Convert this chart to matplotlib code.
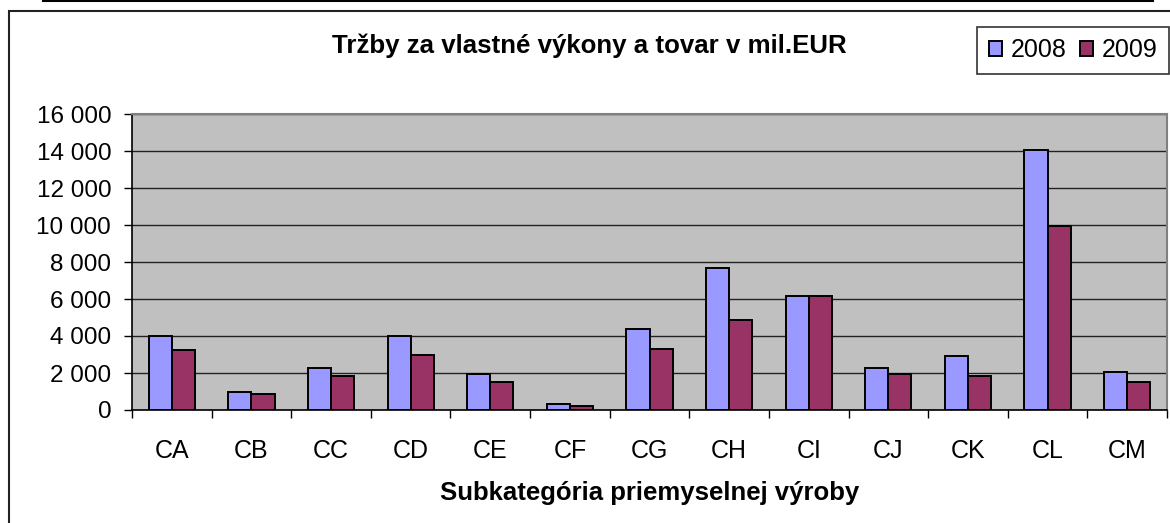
import matplotlib.pyplot as plt
import numpy as np
from matplotlib.lines import Line2D
from matplotlib.patches import Rectangle
from matplotlib.ticker import FuncFormatter, FixedLocator

# Tržby podľa subkategórie (mil. EUR), odčítané z grafu
categories = ["CA", "CB", "CC", "CD", "CE", "CF", "CG", "CH", "CI", "CJ", "CK", "CL", "CM"]
sales_2008 = [4000, 950, 2250, 4000, 1950, 300, 4400, 7650, 6150, 2250, 2900, 14050, 2050]
sales_2009 = [3250, 850, 1850, 3000, 1500, 200, 3300, 4850, 6150, 1950, 1850, 9950, 1500]
series_labels = ["2008", "2009"]

plt.rcParams['font.family'] = ['Liberation Sans', 'DejaVu Sans']

W, H = 1170, 523
fig = plt.figure(figsize=(W / 100, H / 100), dpi=100, facecolor='w')

# plot area in pixels: x 132..1167, y 114..410
ax = fig.add_axes([132 / W, 1 - 410 / H, (1167 - 132) / W, (410 - 114) / H])
ax.set_facecolor('#C0C0C0')

x = np.arange(len(categories))
w = 0.29
ax.bar(x - w / 2, sales_2008, w, color='#9999FF', edgecolor='black', linewidth=1.4,
       label=series_labels[0], zorder=3)
ax.bar(x + w / 2, sales_2009, w, color='#993366', edgecolor='black', linewidth=1.4,
       label=series_labels[1], zorder=3)

ax.set_xlim(-0.5, len(categories) - 0.5)
ax.set_ylim(0, 16000)
ax.set_yticks(np.arange(0, 16001, 2000))
ax.yaxis.set_major_formatter(FuncFormatter(lambda v, p: f"{int(v):,}".replace(",", " ")))
ax.grid(axis='y', color='#222222', linewidth=1.0, zorder=1)

# category labels at centres, tick marks at boundaries
ax.set_xticks(x)
ax.set_xticklabels(categories)
ax.xaxis.set_minor_locator(FixedLocator(np.arange(-0.5, len(categories), 1)))
ax.tick_params(axis='x', which='major', length=0, pad=21, labelsize=18)
ax.tick_params(axis='x', which='minor', length=6, width=1, direction='out', color='black')
ax.tick_params(axis='y', length=6, width=1, direction='out', pad=9, labelsize=17.5)

for s in ['top', 'right']:
    ax.spines[s].set_color('#808080')
    ax.spines[s].set_linewidth(1.5)
for s in ['left', 'bottom']:
    ax.spines[s].set_color('black')
    ax.spines[s].set_linewidth(1.2)

ax.set_xlabel("Subkategória priemyselnej výroby", fontsize=18.5, fontweight='bold', labelpad=13)

fig.text(589 / W, 1 - 46 / H, "Tržby za vlastné výkony a tovar v mil.EUR",
         fontsize=18.6, fontweight='bold', ha='center', va='center')

leg = fig.legend(loc='upper right', bbox_to_anchor=(1169 / W, 1 - 27 / H),
                 bbox_transform=fig.transFigure, ncol=2, fontsize=18,
                 handlelength=0.55, handleheight=0.55, handletextpad=0.35,
                 columnspacing=0.5, borderpad=0.45, borderaxespad=0, fancybox=False,
                 frameon=True, edgecolor='black')
leg.get_frame().set_linewidth(1.2)

# chart border and the document line above it
fig.add_artist(Rectangle((9 / W, -0.1), 1.2, 1.1 - 11 / H, transform=fig.transFigure,
                         fill=False, edgecolor='#222222', linewidth=1.5))
fig.add_artist(Line2D([43 / W, 1153 / W], [1 - 1 / H, 1 - 1 / H], transform=fig.transFigure,
                      color='black', linewidth=1.5))

fig.savefig("out.png", dpi=100)
